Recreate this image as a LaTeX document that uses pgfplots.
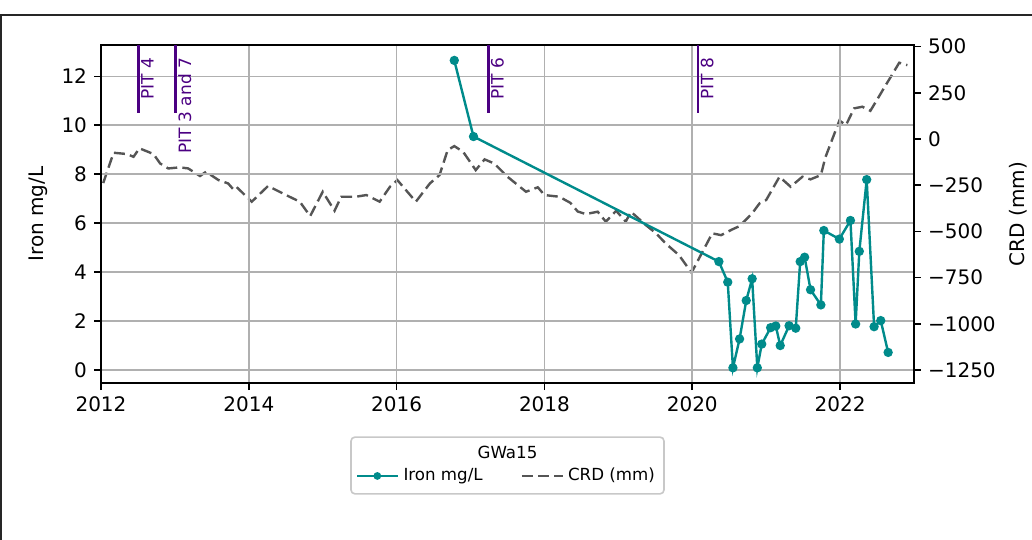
\documentclass[border=0pt]{standalone}
\usepackage{pgfplots}
\pgfplotsset{compat=1.18}
\usepackage{fontspec}
\setmainfont{DejaVu Sans}

\definecolor{iron}{RGB}{0,139,139}
\definecolor{crd}{RGB}{85,85,85}
\definecolor{pit}{RGB}{75,0,130}
\definecolor{gridc}{RGB}{176,176,176}

\begin{document}
\begin{tikzpicture}[
    % shifts act in the rotated frame: x runs up, y runs left
    pitlabel/.style={pit, rotate=90, anchor=north east, inner sep=0.4pt,
        xshift=-5.8pt, yshift=-0.7pt, font=\fontsize{8.5}{10}\selectfont},
]
\useasboundingbox (-50.5pt,-78.5pt) rectangle (465.5pt,191.5pt);
% figure frame
\draw[line width=0.6pt, black!85] (-50pt,-90pt) -- (-50pt,184pt) -- (470pt,184pt);

% right axis: CRD
\begin{axis}[
    scale only axis,
    width=406.5pt, height=169pt,
    xmin=2012, xmax=2023,
    ymin=-1320, ymax=509,
    axis x line=none,
    axis y line*=right,
    axis line style={line width=0.8pt},
    ytick={-1250,-1000,-750,-500,-250,0,250,500},
    yticklabels={−1250,−1000,−750,−500,−250,0,250,500},
    tick align=outside,
    major tick length=3.5pt,
    tick style={line width=0.8pt, black},
    ticklabel style={font=\fontsize{10}{12}\selectfont},
    ylabel={CRD (mm)},
    ylabel style={font=\fontsize{10}{12}\selectfont},
    legend style={draw=none, fill=none, at={(0.5,-0.275)}, anchor=center,
        font=\fontsize{8.33}{10}\selectfont,
        /tikz/every even column/.append style={column sep=17pt}},
    legend columns=2,
    legend image code/.code={
        \draw[#1] (0pt,0pt) -- (20.5pt,0pt);
        \draw[#1, only marks, mark size=1.3pt] plot coordinates {(10pt,0pt)};
    },
]
\addlegendimage{iron, line width=1.2pt, mark=*, mark options={solid, fill=iron, draw=iron}}
\addlegendentry{Iron mg/L}
\addplot[crd, line width=1.2pt, dash pattern=on 5.5pt off 2.6pt, forget plot] coordinates {
(2012.03,-238)(2012.17,-74)(2012.35,-81)(2012.44,-96)(2012.52,-50)
(2012.71,-81)(2012.80,-132)(2012.91,-159)(2013.07,-153)(2013.18,-159)
(2013.34,-200)(2013.42,-177)(2013.59,-222)(2013.72,-240)(2013.79,-272)
(2013.83,-258)(2014.04,-339)(2014.26,-254)(2014.55,-312)(2014.69,-339)
(2014.83,-417)(2015.00,-285)(2015.16,-388)(2015.25,-312)(2015.45,-312)
(2015.59,-303)(2015.77,-339)(2015.91,-258)(2016.01,-222)(2016.26,-339)
(2016.45,-240)(2016.58,-195)(2016.69,-60)(2016.78,-38)(2016.90,-69)
(2017.07,-168)(2017.19,-110)(2017.32,-132)(2017.50,-204)(2017.75,-285)
(2017.91,-261)(2018.00,-303)(2018.20,-312)(2018.35,-345)(2018.45,-392)
(2018.56,-406)(2018.72,-393)(2018.83,-447)(2018.97,-388)(2019.10,-447)
(2019.17,-393)(2019.37,-465)(2019.51,-510)(2019.64,-565)(2019.82,-628)
(2019.99,-723)(2020.27,-510)(2020.39,-520)(2020.54,-489)(2020.64,-471)
(2020.81,-402)(2020.91,-348)(2021.00,-330)(2021.18,-204)(2021.33,-258)
(2021.49,-204)(2021.60,-218)(2021.74,-195)(2021.80,-100)(2021.99,100)
(2022.08,76)(2022.19,166)(2022.30,175)(2022.41,153)(2022.60,280)
(2022.80,413)(2022.91,400)
};
\addlegendimage{crd, line width=1.2pt, dash pattern=on 5.5pt off 2.6pt}
\addlegendentry{CRD (mm)}
\end{axis}

% left axis: iron
\begin{axis}[
    scale only axis,
    width=406.5pt, height=169pt,
    xmin=2012, xmax=2023,
    ymin=-0.53, ymax=13.28,
    xtick pos=lower,
    ytick pos=left,
    axis line style={line width=0.8pt},
    xtick={2012,2014,2016,2018,2020,2022},
    ytick={0,2,4,6,8,10,12},
    /pgf/number format/1000 sep={},
    /pgf/number format/assume math mode=true,
    tick align=outside,
    major tick length=3.5pt,
    tick style={line width=0.8pt, black},
    ticklabel style={font=\fontsize{10}{12}\selectfont},
    grid=major,
    major grid style={gridc, line width=0.8pt},
    ylabel={Iron mg/L},
    ylabel style={font=\fontsize{10}{12}\selectfont},
    clip=false,
]
% PIT markers
\addplot[pit, line width=1.3pt] coordinates {(2012.51,10.52)(2012.51,13.28)};
\addplot[pit, line width=1.3pt] coordinates {(2013.01,10.52)(2013.01,13.28)};
\addplot[pit, line width=1.3pt] coordinates {(2017.24,10.52)(2017.24,13.28)};
\addplot[pit, line width=1.3pt] coordinates {(2020.08,10.52)(2020.08,13.28)};
\node[pitlabel] at (axis cs:2012.51,13.28) {PIT 4};
\node[pitlabel] at (axis cs:2013.01,13.28) {PIT 3 and 7};
\node[pitlabel] at (axis cs:2017.24,13.28) {PIT 6};
\node[pitlabel] at (axis cs:2020.08,13.28) {PIT 8};

\addplot[iron, line width=1.2pt, mark=*, mark size=1.7pt, mark options={fill=iron, draw=iron}] coordinates {
(2016.78,12.65)(2017.04,9.54)(2020.36,4.43)(2020.48,3.59)(2020.55,0.09)
(2020.64,1.27)(2020.73,2.84)(2020.81,3.73)(2020.88,0.09)(2020.94,1.06)
(2021.06,1.73)(2021.13,1.80)(2021.19,1.00)(2021.31,1.81)(2021.40,1.71)
(2021.46,4.43)(2021.52,4.61)(2021.60,3.28)(2021.74,2.66)(2021.78,5.70)
(2021.99,5.35)(2022.14,6.11)(2022.21,1.88)(2022.26,4.85)(2022.36,7.78)
(2022.46,1.77)(2022.55,2.02)(2022.65,0.72)
};

% legend title and frame
\node[font=\fontsize{8.33}{10}\selectfont] at (axis description cs:0.5,-0.204) {GWa15};
\draw[gridc!70, line width=0.8pt, rounded corners=2pt]
    (axis description cs:0.3075,-0.16) rectangle (axis description cs:0.6925,-0.328);
\end{axis}
\end{tikzpicture}
\end{document}
